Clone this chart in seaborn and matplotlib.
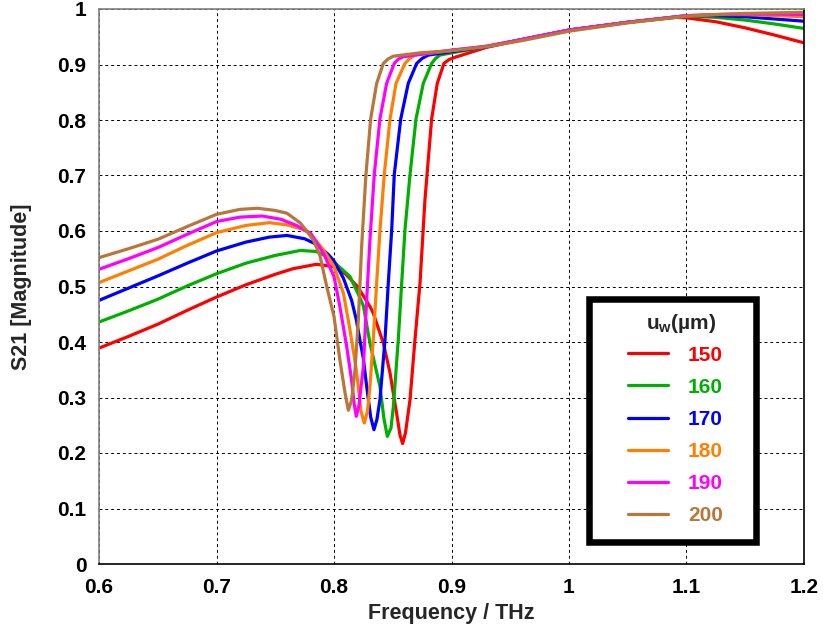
import pandas as pd
import numpy as np
import matplotlib
matplotlib.use('Agg')
import matplotlib.pyplot as plt
from matplotlib.patches import Rectangle
import seaborn as sns

# ==========================================
# 1. 数据
# ==========================================
widths = [150, 160, 170, 180, 190, 200]
colors = ['#ff0000', '#00b000', '#0000ff', '#ff8000', '#ff00ff', '#b8763a']

freq_150 = [0.60, 0.625, 0.65, 0.675, 0.70, 0.725, 0.75, 0.765, 0.785, 0.80, 0.81, 0.82, 0.8306, 0.8334,
            0.842, 0.8477, 0.8534, 0.8562, 0.8584, 0.8608, 0.8647, 0.8689, 0.8732, 0.8774, 0.8831, 0.8879,
            0.8936, 0.898, 0.903, 0.93, 0.96, 1.00, 1.05, 1.09, 1.10, 1.125, 1.15, 1.175, 1.20]
s21_150 = [0.389, 0.410, 0.432, 0.457, 0.481, 0.503, 0.522, 0.532, 0.540, 0.536, 0.522, 0.500, 0.464, 0.452,
           0.398, 0.344, 0.270, 0.232, 0.217, 0.236, 0.296, 0.404, 0.506, 0.656, 0.802, 0.866,
           0.902, 0.909, 0.913, 0.931, 0.945, 0.962, 0.976, 0.985, 0.984, 0.977, 0.966, 0.953, 0.939]

freq_160 = [0.60, 0.625, 0.65, 0.675, 0.70, 0.725, 0.75, 0.7715, 0.785, 0.795, 0.80, 0.8136, 0.822, 0.825,
            0.8306, 0.8391, 0.8425, 0.8454, 0.8485, 0.8505, 0.8547, 0.8576, 0.8604, 0.8647, 0.8698, 0.876,
            0.8831, 0.8865, 0.8902, 0.90, 0.93, 0.96, 1.00, 1.05, 1.10, 1.125, 1.15, 1.175, 1.20]
s21_160 = [0.436, 0.456, 0.477, 0.501, 0.523, 0.542, 0.556, 0.565, 0.563, 0.553, 0.544, 0.518, 0.480, 0.465,
           0.398, 0.320, 0.262, 0.230, 0.245, 0.283, 0.404, 0.506, 0.602, 0.702, 0.802, 0.866,
           0.902, 0.911, 0.917, 0.921, 0.932, 0.945, 0.962, 0.976, 0.987, 0.985, 0.980, 0.973, 0.965]

freq_170 = [0.60, 0.625, 0.65, 0.675, 0.70, 0.725, 0.745, 0.76, 0.775, 0.785, 0.795, 0.80, 0.808, 0.815,
            0.819, 0.822, 0.825, 0.8278, 0.8312, 0.834, 0.8365, 0.8391, 0.8434, 0.8462, 0.8491, 0.8513,
            0.8568, 0.8632, 0.8704, 0.875, 0.8803, 0.90, 0.93, 0.96, 1.00, 1.05, 1.10, 1.125, 1.15,
            1.175, 1.20]
s21_170 = [0.475, 0.497, 0.519, 0.542, 0.564, 0.580, 0.589, 0.592, 0.586, 0.576, 0.558, 0.546, 0.515, 0.475,
           0.440, 0.404, 0.370, 0.320, 0.265, 0.242, 0.260, 0.296, 0.404, 0.506, 0.602, 0.702,
           0.802, 0.866, 0.902, 0.911, 0.917, 0.923, 0.932, 0.945, 0.962, 0.976, 0.988, 0.988, 0.986,
           0.982, 0.978]

freq_180 = [0.60, 0.625, 0.65, 0.675, 0.70, 0.725, 0.745, 0.76, 0.772, 0.7796, 0.791, 0.80, 0.808, 0.8136,
            0.819, 0.823, 0.8258, 0.8285, 0.8306, 0.8334, 0.8363, 0.8391, 0.8428, 0.8477, 0.8528, 0.8604,
            0.8645, 0.869, 0.90, 0.93, 0.96, 1.00, 1.05, 1.10, 1.125, 1.15, 1.175, 1.20]
s21_180 = [0.507, 0.528, 0.549, 0.574, 0.597, 0.610, 0.615, 0.611, 0.604, 0.596, 0.566, 0.536, 0.488, 0.422,
           0.350, 0.275, 0.254, 0.275, 0.320, 0.404, 0.506, 0.600, 0.702, 0.802, 0.866, 0.902,
           0.911, 0.917, 0.925, 0.933, 0.945, 0.962, 0.976, 0.988, 0.990, 0.990, 0.988, 0.986]

freq_190 = [0.60, 0.625, 0.65, 0.675, 0.70, 0.72, 0.739, 0.755, 0.768, 0.78, 0.791, 0.80, 0.805, 0.8108,
            0.815, 0.8172, 0.819, 0.8212, 0.825, 0.8278, 0.8306, 0.8343, 0.8391, 0.8448, 0.8513, 0.855,
            0.859, 0.90, 0.93, 0.96, 1.00, 1.05, 1.10, 1.125, 1.15, 1.175, 1.20]
s21_190 = [0.531, 0.550, 0.570, 0.594, 0.617, 0.625, 0.627, 0.621, 0.610, 0.596, 0.560, 0.518, 0.464, 0.392,
           0.331, 0.288, 0.266, 0.285, 0.356, 0.476, 0.584, 0.702, 0.802, 0.866, 0.902, 0.910,
           0.914, 0.926, 0.933, 0.945, 0.962, 0.976, 0.988, 0.990, 0.991, 0.991, 0.990]

freq_200 = [0.60, 0.625, 0.65, 0.675, 0.70, 0.72, 0.735, 0.75, 0.76, 0.771, 0.7768, 0.7826, 0.788, 0.7938,
            0.80, 0.805, 0.8094, 0.8122, 0.815, 0.8179, 0.8207, 0.8236, 0.8272, 0.8312, 0.8363, 0.842,
            0.846, 0.8505, 0.8732, 0.90, 0.93, 0.96, 1.00, 1.05, 1.10, 1.125, 1.15, 1.175, 1.20]
s21_200 = [0.552, 0.568, 0.585, 0.608, 0.630, 0.639, 0.641, 0.637, 0.632, 0.615, 0.600, 0.583, 0.556, 0.500,
           0.446, 0.368, 0.308, 0.277, 0.295, 0.350, 0.440, 0.575, 0.702, 0.802, 0.866, 0.902,
           0.910, 0.915, 0.921, 0.925, 0.932, 0.943, 0.960, 0.975, 0.987, 0.990, 0.992, 0.993, 0.994]

freqs = [freq_150, freq_160, freq_170, freq_180, freq_190, freq_200]
s21s = [s21_150, s21_160, s21_170, s21_180, s21_190, s21_200]

df = pd.concat([pd.DataFrame({'freq': f, 's21': s, 'uw': w}) for f, s, w in zip(freqs, s21s, widths)],
               ignore_index=True)
palette = dict(zip(widths, colors))

# ==========================================
# 2. 绘图
# ==========================================
sns.set_style('white')
plt.rcParams['font.family'] = ['Liberation Sans', 'DejaVu Sans']
plt.rcParams['font.weight'] = 'bold'
plt.rcParams['mathtext.fontset'] = 'custom'
plt.rcParams['mathtext.rm'] = 'Liberation Sans:bold'
plt.rcParams['mathtext.bf'] = 'Liberation Sans:bold'
plt.rcParams['mathtext.it'] = 'Liberation Sans:bold'

fig = plt.figure(figsize=(8.23, 6.36), dpi=100)
ax = fig.add_axes([99 / 823, 72 / 636, 705 / 823, 555 / 636])

sns.lineplot(data=df, x='freq', y='s21', hue='uw', palette=palette, estimator=None, sort=False,
             lw=2.3, legend=False, ax=ax)

ax.set_xlim(0.6, 1.2)
ax.set_ylim(0, 1)
ax.set_xticks(np.arange(0.6, 1.201, 0.1))
ax.set_xticklabels(['0.6', '0.7', '0.8', '0.9', '1', '1.1', '1.2'])
ax.set_yticks(np.arange(0, 1.001, 0.1))
ax.set_yticklabels(['0', '0.1', '0.2', '0.3', '0.4', '0.5', '0.6', '0.7', '0.8', '0.9', '1'])

ax.grid(True, color='black', linestyle=(0, (3, 3)), linewidth=0.7)
ax.set_axisbelow(True)

for side in ['left', 'top']:
    ax.spines[side].set_color('#808080')
for side in ['bottom', 'right']:
    ax.spines[side].set_color('black')
for sp in ax.spines.values():
    sp.set_linewidth(1.2)

ax.tick_params(axis='both', direction='out', length=4, width=1, labelsize=15, pad=5)
ax.tick_params(axis='y', colors='#808080', labelcolor='black')
ax.tick_params(axis='x', colors='black', pad=6)

ax.set_xlabel('Frequency / THz', fontsize=15.5, fontweight='bold')
ax.set_ylabel('S21 [Magnitude]', fontsize=15.5, fontweight='bold')
ax.xaxis.set_label_coords(0.5, -0.07)
ax.yaxis.set_label_coords(-0.095, 0.5)

# 图例 (手动绘制, 粗黑边框)
ax.add_patch(Rectangle((0.695, 0.0405), 0.237, 0.437, transform=ax.transAxes, facecolor='white',
                       edgecolor='black', lw=4.7, zorder=5, clip_on=False))
ax.text(0.8262, 0.4234, r'$\mathbf{u_w}$(µm)', transform=ax.transAxes, ha='center', va='baseline',
        fontsize=15, fontweight='bold', zorder=7)
for i, (w, c) in enumerate(zip(widths, colors)):
    y = 0.3796 - i * 0.0579
    ax.plot([0.7508, 0.8076], [y, y], transform=ax.transAxes, color=c, lw=2.3, zorder=6, clip_on=False)
    ax.text(0.8355, y - 0.0132, str(w), transform=ax.transAxes, ha='left', va='baseline', color=c,
            fontsize=15, fontweight='bold', zorder=7)

plt.savefig('out.png', dpi=100)
